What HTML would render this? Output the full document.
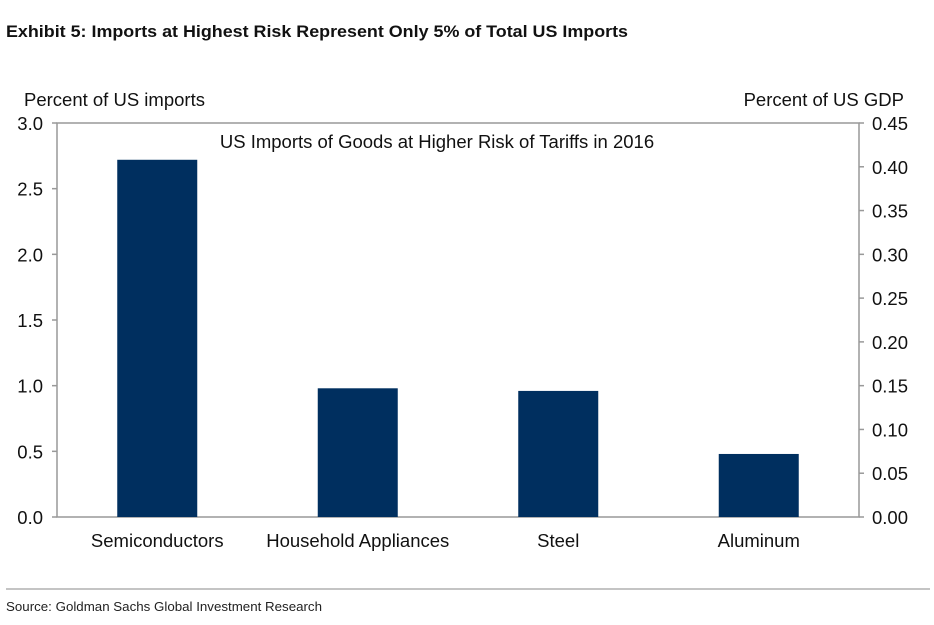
<!DOCTYPE html>
<html><head><meta charset="utf-8"><style>
body{margin:0;background:#fff;width:934px;height:620px;overflow:hidden;font-family:"Liberation Sans",sans-serif}
</style></head><body>
<svg width="934" height="620" font-family="Liberation Sans, sans-serif">
<text x="6" y="37" font-size="17" font-weight="bold" fill="#111" textLength="622" lengthAdjust="spacingAndGlyphs">Exhibit 5: Imports at Highest Risk Represent Only 5% of Total US Imports</text>
<text x="24" y="106" font-size="18.5" fill="#111">Percent of US imports</text>
<text x="904" y="106" font-size="18.5" fill="#111" text-anchor="end">Percent of US GDP</text>
<text x="437" y="148" font-size="18.5" fill="#111" text-anchor="middle">US Imports of Goods at Higher Risk of Tariffs in 2016</text>
<g id="plot"></g>
<line x1="6" y1="589" x2="930" y2="589" stroke="#888" stroke-width="1"/>
<text x="6" y="611" font-size="13" fill="#222" textLength="316" lengthAdjust="spacingAndGlyphs">Source: Goldman Sachs Global Investment Research</text>
</svg>
<script>
const categories=["Semiconductors","Household Appliances","Steel","Aluminum"];
const values=[2.72,0.98,0.96,0.48];
const leftTicks=["0.0","0.5","1.0","1.5","2.0","2.5","3.0"];
const rightTicks=["0.00","0.05","0.10","0.15","0.20","0.25","0.30","0.35","0.40","0.45"];
const L=57,R=859,T=123,B=517,MAX=3;
const ns="http://www.w3.org/2000/svg";
const g=document.getElementById('plot');
function y(v){return B-(v/MAX)*(B-T);}
function x(i){return L+(R-L)/categories.length*(i+0.5);}
function mk(t,a,p){const e=document.createElementNS(ns,t);for(const k in a)e.setAttribute(k,a[k]);(p||g).appendChild(e);return e;}
let e;
e=mk('rect',{x:L,y:T,width:R-L,height:B-T,fill:'none',stroke:'#999','stroke-width':1.5});


leftTicks.forEach((t,i)=>{const v=parseFloat(t);const yy=y(v);
 const l=mk('line',{x1:L-5,x2:L,y1:yy,y2:yy,stroke:'#999','stroke-width':1.5});
 
 
 const tx=mk('text',{x:L-14,y:yy+7,'font-size':18.5,fill:'#111','text-anchor':'end'});tx.textContent=t;
 
 
});
rightTicks.forEach((t,i)=>{const v=parseFloat(t);const yy=B-(v/0.45)*(B-T);
 const l=mk('line',{x1:R,x2:R+5,y1:yy,y2:yy,stroke:'#999','stroke-width':1.5});
 
 
 const tx=mk('text',{x:R+13,y:yy+7,'font-size':18.5,fill:'#111'});tx.textContent=t;
 
 
});
categories.forEach((c,i)=>{const cx=x(i);
 const r=mk('rect',{x:cx-40,y:y(values[i]),width:80,height:B-y(values[i]),fill:'#002f5f'});
 
 
 const tx=mk('text',{x:cx,y:547,'font-size':18.5,fill:'#111','text-anchor':'middle'});tx.textContent=c;
 
 
});
</script>
</body></html>
